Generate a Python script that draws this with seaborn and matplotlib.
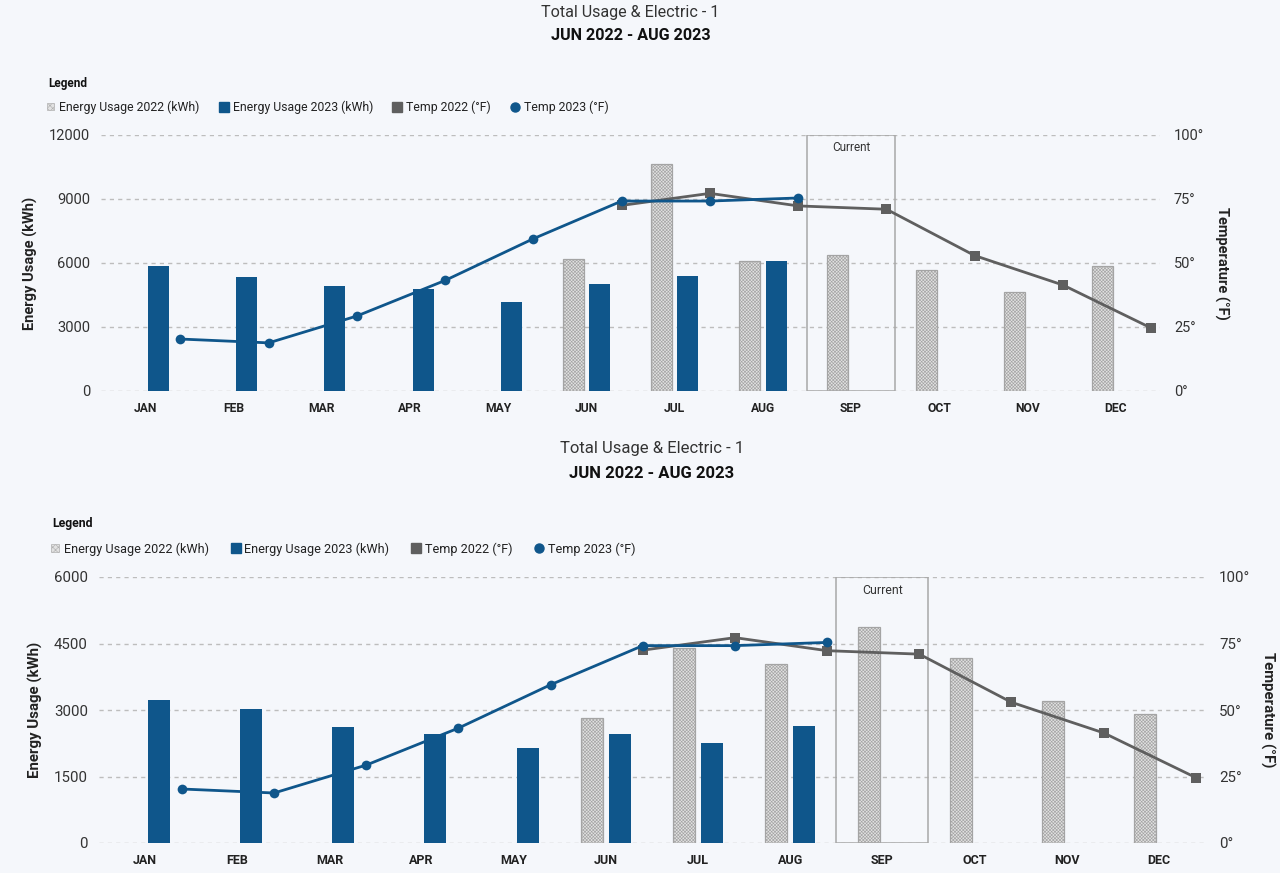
import numpy as np
import pandas as pd
import matplotlib
matplotlib.use("Agg")
import matplotlib.pyplot as plt
import seaborn as sns
from matplotlib.patches import Patch, Rectangle
from matplotlib.lines import Line2D

months = ["JAN", "FEB", "MAR", "APR", "MAY", "JUN", "JUL", "AUG", "SEP", "OCT", "NOV", "DEC"]
nan = np.nan

# chart 1 (upper) usage, kWh
usage_2022_top = [nan, nan, nan, nan, nan, 6190, 10625, 6080, 6375, 5670, 4625, 5875]
usage_2023_top = [5860, 5330, 4920, 4766, 4187, 5000, 5390, 6080, nan, nan, nan, nan]
# chart 2 (lower) usage, kWh
usage_2022_bot = [nan, nan, nan, nan, nan, 2820, 4390, 4030, 4880, 4165, 3203, 2917]
usage_2023_bot = [3226, 3015, 2609, 2451, 2135, 2451, 2256, 2632, nan, nan, nan, nan]
# temperatures, deg F (same in both charts)
temp_2022 = [nan, nan, nan, nan, nan, 72.5, 77.2, 72.3, 71.0, 52.9, 41.4, 24.6]
temp_2023 = [20.3, 18.8, 29.3, 43.2, 59.5, 74.2, 74.2, 75.4, nan, nan, nan, nan]

top_ticks = [0, 3000, 6000, 9000, 12000]
bot_ticks = [0, 1500, 3000, 4500, 6000]
temp_ticks = [0, 25, 50, 75, 100]

BLUE = "#0f568b"
GRAY = "#5f5f5f"
BG = "#f5f7fb"

sns.set_theme(style="white")
plt.rcParams["font.family"] = ["Roboto", "DejaVu Sans"]
plt.rcParams["hatch.linewidth"] = 0.45
plt.rcParams["axes.facecolor"] = BG
plt.rcParams["figure.facecolor"] = BG

fig = plt.figure(figsize=(12.8, 8.73), dpi=100)


def draw_chart(rect, u22, u23, yticks, fs):
    ax = fig.add_axes(rect)
    df = pd.DataFrame({
        "month": months * 2,
        "year": ["2022"] * 12 + ["2023"] * 12,
        "usage": list(u22) + list(u23),
    }).dropna()
    sns.barplot(data=df, x="month", y="usage", hue="year", order=months,
                hue_order=["2022", "2023"], palette={"2022": "#e2e2e2", "2023": BLUE},
                width=0.6, gap=0.2, saturation=1, legend=False, ax=ax, zorder=2)
    for p in ax.containers[0]:
        p.set_hatch("x" * 10)
        p.set_edgecolor("#a4a4a4")
        p.set_linewidth(0.9)
    for p in ax.containers[1]:
        p.set_linewidth(0)

    ax.set_xlim(-0.5, 11.5)
    ax.set_ylim(0, yticks[-1])
    ax.set_yticks(yticks)
    ax.set_yticklabels([str(t) for t in yticks], fontsize=fs + 1.5, color="#333333")
    ax.set_xlabel("")
    ax.set_ylabel("Energy Usage (kWh)", fontsize=fs + 1.5, fontweight="bold",
                  color="#222222", labelpad=8)
    ax.tick_params(axis="x", labelsize=fs - 0.3, length=0, pad=8)
    ax.tick_params(axis="y", length=0, pad=8)
    for lbl in ax.get_xticklabels():
        lbl.set_fontweight("bold")
        lbl.set_color("#222222")
    ax.yaxis.grid(True, linestyle=(0, (3, 3)), color="#bdbdbd", linewidth=1)
    ax.set_axisbelow(True)
    sns.despine(ax=ax, left=True, bottom=True)

    # "Current" month box
    ax.add_patch(Rectangle((7.5, 0), 1, yticks[-1], fill=False, edgecolor="#a8a8a8",
                           linewidth=1.1, zorder=3))
    ax.text(8, yticks[-1] * 0.95, "Current", ha="center", va="center",
            fontsize=fs - 0.5, color="#333333", zorder=4)

    tx = ax.twinx()
    pos = np.arange(12) + 0.4
    tdf = pd.DataFrame({"x": pos, "t22": temp_2022, "t23": temp_2023})
    sns.lineplot(data=tdf, x="x", y="t22", color=GRAY, marker="s", markersize=7,
                 markeredgewidth=0, linewidth=2, ax=tx)
    sns.lineplot(data=tdf, x="x", y="t23", color=BLUE, marker="o", markersize=7,
                 markeredgewidth=0, linewidth=2, ax=tx)
    tx.set_xlim(-0.5, 11.5)
    tx.set_ylim(0, 100)
    tx.set_yticks(temp_ticks)
    tx.set_yticklabels([f"{t}°" for t in temp_ticks], fontsize=fs + 1.5, color="#333333")
    tx.tick_params(axis="y", length=0, pad=10)
    tx.set_ylabel("Temperature (°F)", fontsize=fs + 1.5, fontweight="bold", rotation=270,
                  labelpad=18, color="#222222")
    tx.grid(False)
    sns.despine(ax=tx, left=True, bottom=True, right=True)
    return ax


def header(rect, y1, y2, yleg, yent, fs, tfs, xleg, colsp):
    cx = rect[0] + rect[2] / 2
    fig.text(cx, 1 - y1 / 873, "Total Usage & Electric - 1", ha="center", va="center",
             fontsize=tfs, color="#333333")
    fig.text(cx, 1 - y2 / 873, "JUN 2022 - AUG 2023", ha="center", va="center",
             fontsize=tfs, fontweight="bold", color="#111111")
    fig.text(xleg / 1280, 1 - yleg / 873, "Legend", ha="left", va="center",
             fontsize=fs - 0.3, fontweight="bold", color="#111111")
    handles = [
        Patch(facecolor="#e2e2e2", edgecolor="#b0b0b0", hatch="xxxxxx", linewidth=0.5),
        Line2D([], [], linestyle="none", marker="s", color=BLUE, markersize=6.5),
        Line2D([], [], linestyle="none", marker="s", color=GRAY, markersize=6.5),
        Line2D([], [], linestyle="none", marker="o", color=BLUE, markersize=6.5),
    ]
    labels = ["Energy Usage 2022 (kWh)", "Energy Usage 2023 (kWh)",
              "Temp 2022 (°F)", "Temp 2023 (°F)"]
    fig.legend(handles, labels, loc="center left",
               bbox_to_anchor=((xleg - 12) / 1280, 1 - yent / 873), ncol=4,
               frameon=False, fontsize=fs, handlelength=0.6, handleheight=0.6,
               handletextpad=0.4, columnspacing=colsp, labelcolor="#222222")


rect_top = [101 / 1280, 482 / 873, 1059 / 1280, 256 / 873]
rect_bot = [99 / 1280, 30 / 873, 1106 / 1280, 266 / 873]

draw_chart(rect_top, usage_2022_top, usage_2023_top, top_ticks, 9)
draw_chart(rect_bot, usage_2022_bot, usage_2023_bot, bot_ticks, 9.3)
header(rect_top, 12, 35, 83, 107, 8.8, 11.6, 48, 1.7)
header(rect_bot, 449, 474, 523, 549, 9.1, 12.0, 52, 1.8)

fig.savefig("out.png", dpi=100, facecolor=BG)
